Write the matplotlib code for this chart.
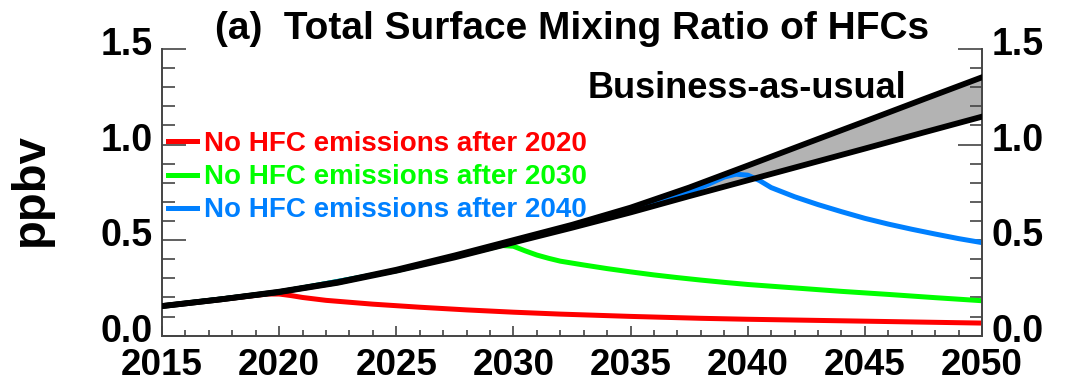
import matplotlib
matplotlib.use('Agg')
import matplotlib.pyplot as plt
from matplotlib.lines import Line2D
from matplotlib.ticker import MultipleLocator
from matplotlib.transforms import ScaledTranslation

plt.rcParams['font.family'] = ['Liberation Sans', 'DejaVu Sans']
plt.rcParams['font.weight'] = 'bold'

# business-as-usual range, upper and lower bound (ppbv)
bau_years = [2015, 2017.5, 2020, 2022.5, 2025, 2027.5, 2030, 2032.5, 2035,
             2037.5, 2040, 2042.5, 2045, 2047.5, 2050]
bau_high = [0.155, 0.19, 0.23, 0.28, 0.345, 0.42, 0.50, 0.58, 0.67,
            0.775, 0.89, 1.006, 1.121, 1.237, 1.352]
bau_low = [0.155, 0.19, 0.228, 0.277, 0.34, 0.41, 0.488, 0.565, 0.645,
           0.73, 0.813, 0.896, 0.979, 1.063, 1.146]

# phase-out scenarios
stop2020_years = [2015, 2017.5, 2019.5, 2020, 2020.5, 2021, 2022, 2023, 2024,
                  2025, 2026, 2027, 2028, 2030, 2032, 2035, 2038, 2040, 2045,
                  2050]
stop2020 = [0.155, 0.19, 0.218, 0.218, 0.21, 0.2, 0.185, 0.175, 0.165,
            0.157, 0.149, 0.142, 0.135, 0.123, 0.113, 0.101, 0.091, 0.086,
            0.076, 0.066]

stop2030_years = [2015, 2020, 2025, 2029.5, 2030, 2030.5, 2031, 2031.5, 2032,
                  2033, 2034, 2035, 2036, 2037, 2038, 2039, 2040, 2042, 2044,
                  2046, 2048, 2050]
stop2030 = [0.155, 0.228, 0.34, 0.472, 0.468, 0.444, 0.422, 0.405, 0.39,
            0.37, 0.351, 0.334, 0.318, 0.304, 0.291, 0.279, 0.268, 0.25,
            0.232, 0.216, 0.199, 0.183]

stop2040_years = [2015, 2020, 2025, 2030, 2035, 2038, 2039, 2039.5, 2040,
                  2040.5, 2041, 2042, 2043, 2044, 2045, 2046, 2047, 2048,
                  2049, 2050]
stop2040 = [0.155, 0.228, 0.34, 0.49, 0.655, 0.775, 0.83, 0.845, 0.84,
            0.812, 0.775, 0.727, 0.686, 0.649, 0.614, 0.584, 0.557, 0.532,
            0.508, 0.487]

scenario_labels = ['No HFC emissions after 2020',
                   'No HFC emissions after 2030',
                   'No HFC emissions after 2040']
scenario_colors = ['#ff0000', '#00ff00', '#0080ff']

W, H = 1077, 383
fig = plt.figure(figsize=(W / 100, H / 100), dpi=100)
ax = fig.add_axes([162 / W, 47.3 / H, 820 / W, 286.7 / H])

ax.fill_between(bau_years, bau_low, bau_high, color='#b3b3b3', lw=0, zorder=1)
series = [(stop2020_years, stop2020), (stop2030_years, stop2030),
          (stop2040_years, stop2040)]
for (yrs, vals), c in zip(series, scenario_colors):
    ax.plot(yrs, vals, color=c, lw=3.6, zorder=2, solid_joinstyle='round')
ax.plot(bau_years, bau_high, color='black', lw=4.2, zorder=3)
ax.plot(bau_years, bau_low, color='black', lw=4.2, zorder=3)

ax.set_xlim(2015, 2050)
ax.set_ylim(0, 1.5)

# axes: no top line, ticks pointing inward on both sides
ax.spines['top'].set_visible(False)
for s in ['left', 'right', 'bottom']:
    ax.spines[s].set_color('#444444')
    ax.spines[s].set_linewidth(1.4)

ax.xaxis.set_major_locator(MultipleLocator(5))
ax.xaxis.set_minor_locator(MultipleLocator(1))
ax.yaxis.set_major_locator(MultipleLocator(0.5))
ax.yaxis.set_minor_locator(MultipleLocator(0.1))
ax.yaxis.set_major_formatter(lambda v, p: '%.1f' % v)

ax.tick_params(axis='both', which='both', direction='in', color='#444444',
               width=1.2, top=False)
ax.tick_params(axis='x', which='major', length=7, labelsize=26.5, pad=9)
ax.tick_params(axis='x', which='minor', length=4)
ax.tick_params(axis='y', which='major', length=17, labelsize=27, pad=7,
               left=True, right=True, labelleft=True, labelright=True)
ax.tick_params(axis='y', which='minor', length=9, left=True, right=True)

# y labels sit a little above their ticks
shift = ScaledTranslation(0, 8 / 100, fig.dpi_scale_trans)
for tick in ax.yaxis.get_major_ticks():
    tick.label1.set_transform(tick.label1.get_transform() + shift)
    tick.label2.set_transform(tick.label2.get_transform() + shift)

fig.text(572 / W, 1 - 39 / H, '(a)  Total Surface Mixing Ratio of HFCs',
         ha='center', va='baseline', fontsize=28)
fig.text(31 / W, 1 - 190 / H, 'ppbv', rotation=90, ha='center', va='center',
         fontsize=34)
ax.text(0.5195, 0.829, 'Business-as-usual', transform=ax.transAxes,
        fontsize=26, va='baseline', ha='left')

handles = [Line2D([], [], color=c, lw=3.6) for c in scenario_colors]
ax.legend(handles, scenario_labels, loc='upper left',
          bbox_to_anchor=(168 / W, 1 - 131 / H), bbox_transform=fig.transFigure,
          frameon=False, fontsize=20, handlelength=1.04, handletextpad=0.25,
          labelspacing=0.26, borderpad=0, borderaxespad=0,
          labelcolor='linecolor')

fig.savefig('out.png', dpi=100)
